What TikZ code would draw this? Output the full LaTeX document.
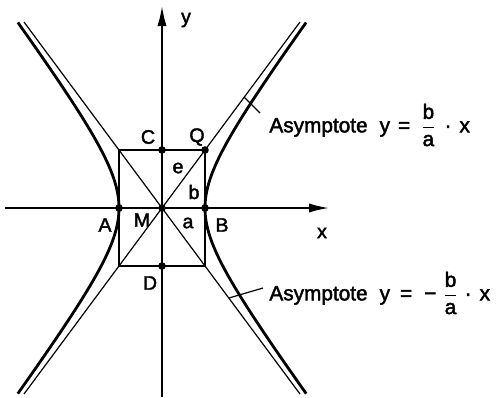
\documentclass[tikz,border=0pt]{standalone}
\usepackage{fontspec}
\setmainfont{Liberation Sans}
\newfontfamily\heavy{Liberation Sans}[FakeBold=2]
\usetikzlibrary{arrows.meta}

\begin{document}
\begin{tikzpicture}[x=0.5pt, y=0.5pt,
    thinline/.style={line width=0.6pt},
    curve/.style={line width=1.4pt},
    axis/.style={line width=0.9pt, -{Latex[length=10pt,width=4.6pt]}},
    dot/.style={circle, fill, inner sep=0pt, minimum size=3.8pt},
    lbl/.style={font=\heavy\fontsize{9.8}{11}\selectfont, inner sep=0pt},
    note/.style={font=\heavy\fontsize{10.4}{12}\selectfont, inner sep=0pt, anchor=west}]
    \useasboundingbox (-162,-189) rectangle (341,208);

    % axes
    \coordinate (xl) at (-157, 0);
    \coordinate (xr) at (167, 0);
    \coordinate (yb) at (0, -189);
    \coordinate (yt) at (0, 202);
    \draw[axis] (xl) -- (xr);
    \draw[axis] (yb) -- (yt);
    \node[lbl](xlab) at (160, -25) {x};
    \node[lbl](ylab) at (24, 188) {y};

    % asymptotes
    \coordinate (s1) at (-138, -186);
    \coordinate (s2) at (138, 186);
    \coordinate (s3) at (-138, 186);
    \coordinate (s4) at (138, -186);
    \draw[thinline] (s1) -- (s2);
    \draw[thinline] (s3) -- (s4);

    % rectangle a x b
    \coordinate (r1) at (-43, -58);
    \coordinate (r2) at (43, 58);
    \draw[thinline] (r1) rectangle (r2);

    % hyperbola
    \draw[curve, domain=-1.88:1.88, samples=60, variable=\t]
        plot ({43*cosh(\t)}, {58*sinh(\t)});
    \draw[curve, domain=-1.88:1.88, samples=60, variable=\t]
        plot ({-43*cosh(\t)}, {58*sinh(\t)});

    % points
    \node[dot](pM) at (0, 0) {};
    \node[dot](pA) at (-43, 0) {};
    \node[dot](pB) at (43, 0) {};
    \node[dot](pC) at (0, 58) {};
    \node[dot](pD) at (0, -58) {};
    \node[dot](pQ) at (43, 58) {};

    \node[lbl] at (-14, 71) {C};
    \node[lbl] at (35, 71) {Q};
    \node[lbl] at (16, 40) {e};
    \node[lbl] at (32, 16) {b};
    \node[lbl] at (-57, -17) {A};
    \node[lbl] at (-20, -12) {M};
    \node[lbl] at (26, -15) {a};
    \node[lbl] at (60, -17) {B};
    \node[lbl] at (-12, -75) {D};

    % asymptote notes
    \coordinate (t1) at (82, 111);
    \coordinate (t2) at (67, -90);
    \node[note](n1) at (107, 83)
        {Asymptote\hspace{6pt}y\hspace{4pt}=\hspace{5pt}$\displaystyle\frac{\mbox{\heavy b}}{\mbox{\heavy a}}$\hspace{4pt}·\hspace{4pt}x};
    \node[note](n2) at (107, -85)
        {Asymptote\hspace{6pt}y\hspace{5pt}=\hspace{6pt}−\hspace{3pt}$\displaystyle\frac{\mbox{\heavy b}}{\mbox{\heavy a}}$\hspace{3pt}·\hspace{4pt}x};
    \draw[thinline] (t1) -- (98, 95);
    \draw[thinline] (t2) -- (101, -80);
\end{tikzpicture}
\end{document}
